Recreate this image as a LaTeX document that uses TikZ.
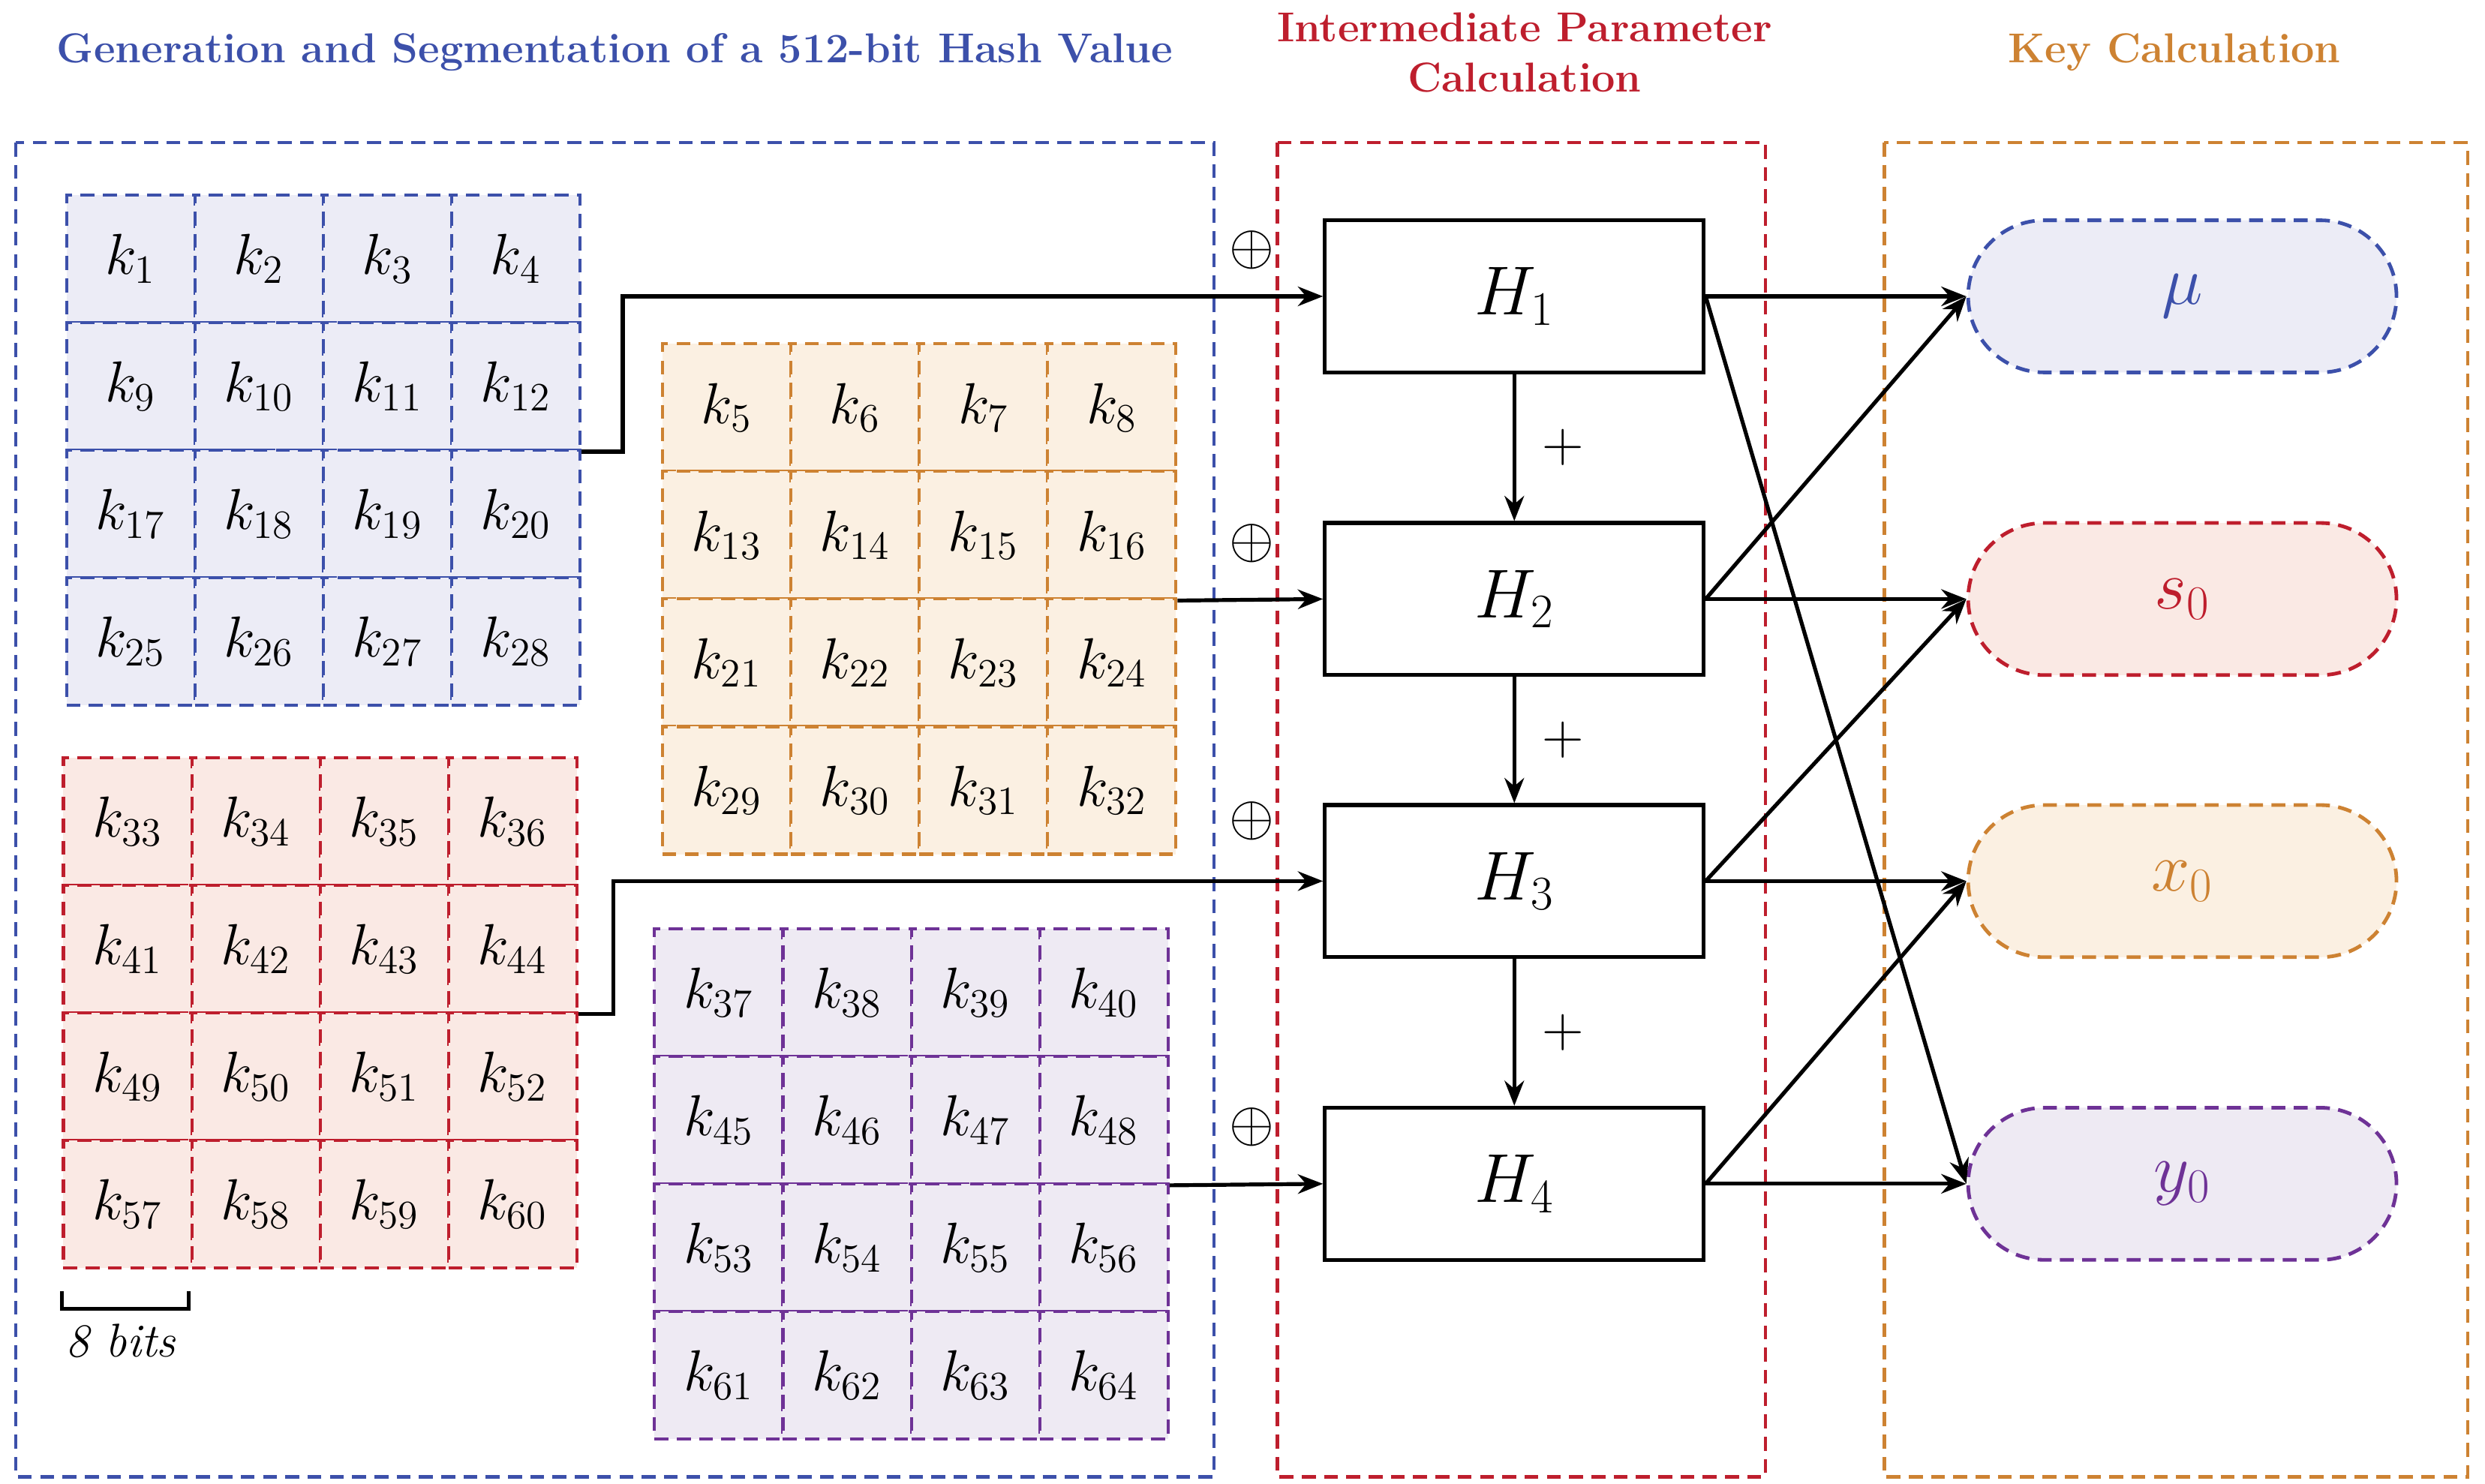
\documentclass[tikz,border=0pt]{standalone}
\usepackage{amssymb}
\usetikzlibrary{arrows.meta,shapes.misc}
\definecolor{cb}{RGB}{60,80,170}
\definecolor{cr}{RGB}{190,30,45}
\definecolor{co}{RGB}{205,130,50}
\definecolor{cp}{RGB}{110,50,150}
\definecolor{fb}{RGB}{236,236,246}
\definecolor{fo}{RGB}{251,240,226}
\definecolor{fr}{RGB}{250,233,228}
\definecolor{fp}{RGB}{238,234,243}
\begin{document}
\begin{tikzpicture}[x=0.02cm,y=-0.02cm,
  dsh/.style={dash pattern=on 5pt off 3pt},
  region/.style={draw,dsh,line width=1.2pt},
  cell/.style={draw,dsh,line width=1.1pt,minimum width=81*0.02cm,minimum height=80.5*0.02cm,inner sep=0pt,font=\fontsize{20}{24}\selectfont},
  hbox/.style={draw,line width=1.4pt,minimum width=239*0.02cm,minimum height=96*0.02cm,font=\fontsize{24}{28}\selectfont},
  keynode/.style={draw,dsh,line width=1.3pt,rounded rectangle,minimum width=282*0.02cm,minimum height=96*0.02cm,font=\fontsize{24}{28}\selectfont},
  arr/.style={line width=1.4pt,-{Stealth[length=9pt,width=7pt]}},
  ttl/.style={font=\fontsize{15}{18}\selectfont\bfseries,align=center}]
\useasboundingbox (0,0) rectangle (1568,936);
\node[ttl,text=cb] (t1) at (388,33) {Generation and Segmentation of a 512-bit Hash Value};
\node[ttl,text=cr] (t2) at (962,33) {Intermediate Parameter\\Calculation};
\node[ttl,text=co] (t3) at (1372,33) {Key Calculation};
\draw[region,cb] (10,90) rectangle (766,932);
\draw[region,cr] (806,90) rectangle (1114,932);
\draw[region,co] (1189,90) rectangle (1557,932);
% grids
\foreach \name/\x/\y/\col/\fil/\base in {gb/42/123/cb/fb/1, go/418/217/co/fo/5, gr/40/478/cr/fr/33, gp/413/586/cp/fp/37}{
  \foreach \r in {0,...,3}{
    \foreach \c in {0,...,3}{
      \pgfmathtruncatemacro{\k}{\base+8*\r+\c}
      \node[cell,draw=\col,fill=\fil] (\name\r\c) at ({\x+40.5+81*\c},{\y+40.25+80.5*\r}) {$k_{\k}$};
    }}
}
% bracket
\draw[line width=1.2pt] (gr30.south west) ++(0,14) -- ++(0,11) -- ++(80,0) -- ++(0,-11);
\node[font=\fontsize{17}{20}\selectfont\itshape] (bits) at (76,846) {8 bits};
% H boxes
\node[hbox] (H1) at (955.5,187) {$H_1$};
\node[hbox] (H2) at (955.5,378) {$H_2$};
\node[hbox] (H3) at (955.5,556) {$H_3$};
\node[hbox] (H4) at (955.5,747) {$H_4$};
\foreach \a/\b in {H1/H2,H2/H3,H3/H4}{
  \draw[arr] (\a.south) -- node[right=6pt,font=\fontsize{20}{24}\selectfont] {$+$} (\b.north);
}
\foreach \y/\n in {158/o1,343/o2,518/o3,711/o4}{\node[font=\fontsize{20}{24}\selectfont] (\n) at (790,\y) {$\oplus$};}
% inputs
\draw[arr] (gb13.south east) -- ++(26,0) |- (H1.west);
\draw[arr] (go13.south east) -- (H2.west);
\draw[arr] (gr13.south east) -- ++(22,0) |- (H3.west);
\draw[arr] (gp13.south east) -- (H4.west);
% outputs
\node[keynode,draw=cb,fill=fb,text=cb] (mu) at (1377,187) {$\mu$};
\node[keynode,draw=cr,fill=fr,text=cr] (s0) at (1377,378) {$s_0$};
\node[keynode,draw=co,fill=fo,text=co] (x0) at (1377,556) {$x_0$};
\node[keynode,draw=cp,fill=fp,text=cp] (y0) at (1377,747) {$y_0$};
\draw[arr] (H1.east) -- (mu.west);
\draw[arr] (H1.east) -- (y0.west);
\draw[arr] (H2.east) -- (s0.west);
\draw[arr] (H2.east) -- (mu.west);
\draw[arr] (H3.east) -- (x0.west);
\draw[arr] (H3.east) -- (s0.west);
\draw[arr] (H4.east) -- (y0.west);
\draw[arr] (H4.east) -- (x0.west);
\end{tikzpicture}
\end{document}
